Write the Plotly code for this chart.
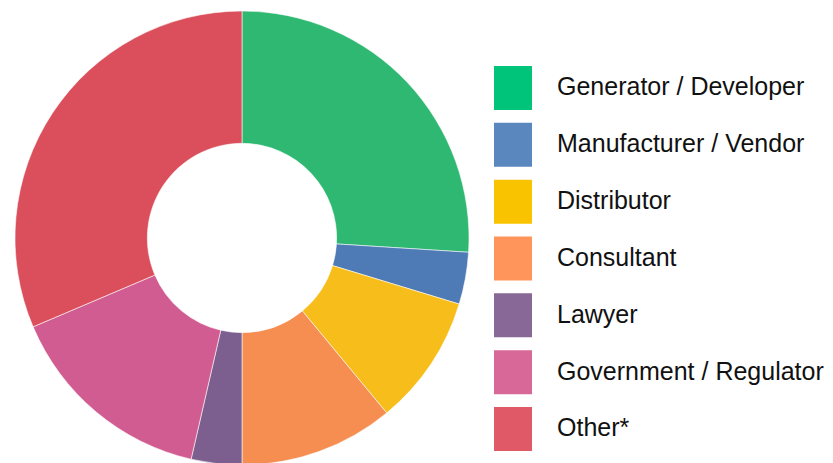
import plotly.graph_objects as go

categories = ["Generator / Developer", "Manufacturer / Vendor", "Distributor", "Consultant",
              "Lawyer", "Government / Regulator", "Other*"]
values = [26.0, 3.7, 9.3, 11.0, 3.6, 15.0, 31.4]
slice_colors = ["#2eb872", "#4e7ab5", "#f6bd1b", "#f68d51", "#7d5f8f", "#d15c91", "#da4f5b"]
legend_colors = ["#00c47a", "#5b87bf", "#f9c300", "#ff955a", "#886897", "#d86897", "#df5a66"]

W, H = 833, 463
OFF = 8  # page body margin offset compensation

def px(x):
    return (x - OFF) / W

def py(y):
    return 1 - (y - OFF) / H

cx, cy, r = 242, 238, 227

fig = go.Figure()
fig.add_trace(go.Pie(
    labels=categories, values=values, sort=False, direction="clockwise", rotation=0,
    hole=0.417, textinfo="none", hoverinfo="label+percent",
    marker=dict(colors=slice_colors, line=dict(color="rgba(255,255,255,0.7)", width=0.8)),
    domain=dict(x=[px(cx - r), px(cx + r)], y=[py(cy + r), py(cy - r)]),
    showlegend=False,
))

top0, step, sw_w, sw_h = 66, 56.83, 38, 44
x0 = 494
shapes, annotations = [], []
for i, (cat, col) in enumerate(zip(categories, legend_colors)):
    top = top0 + i * step
    shapes.append(dict(type="rect", xref="paper", yref="paper",
                       x0=px(x0), x1=px(x0 + sw_w),
                       y0=py(top + sw_h), y1=py(top),
                       fillcolor=col, line=dict(width=0)))
    annotations.append(dict(xref="paper", yref="paper", x=px(555), y=py(top + sw_h / 2 - 1.5),
                            xanchor="left", yanchor="middle", text=cat, showarrow=False,
                            font=dict(family="Liberation Sans, Arial, sans-serif",
                                      size=25, color="#111111")))

fig.update_layout(width=W, height=H, margin=dict(l=0, r=0, t=0, b=0),
                  paper_bgcolor="white", plot_bgcolor="white",
                  shapes=shapes, annotations=annotations)
fig.write_html("out.html")
